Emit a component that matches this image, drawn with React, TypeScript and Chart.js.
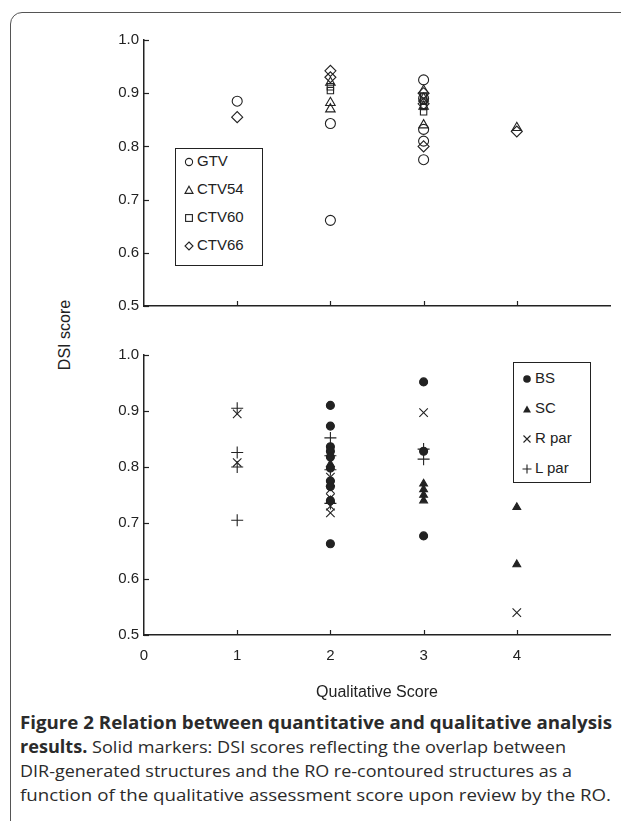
import React, { useEffect, useLayoutEffect, useRef } from "react";
import { Chart, registerables } from "chart.js";

Chart.register(...registerables);

type Pt = [number, number];

// ---------- data ----------
const xTickLabels = ["0", "1", "2", "3", "4"];
const xInnerTicks = [1, 2, 3, 4];
const yMin = 0.5;
const yMax = 1.0;
const xMin = 0;
const xMax = 5;

// top panel (target volumes)
const gtv: Pt[] = [[1, 0.885], [2, 0.843], [2, 0.661], [3, 0.925], [3, 0.89], [3, 0.832], [3, 0.81], [3, 0.775]];
const ctv54: Pt[] = [[2, 0.92], [2, 0.882], [2, 0.87], [3, 0.905], [3, 0.89], [3, 0.875], [3, 0.84], [4, 0.835]];
const ctv60: Pt[] = [[2, 0.912], [2, 0.905], [3, 0.895], [3, 0.885], [3, 0.875], [3, 0.865]];
const ctv66: Pt[] = [[1, 0.855], [2, 0.942], [2, 0.93], [3, 0.9], [3, 0.88], [3, 0.8], [4, 0.828]];

// bottom panel (organs at risk)
const bs: Pt[] = [[2, 0.91], [2, 0.873], [2, 0.836], [2, 0.828], [2, 0.818], [2, 0.798], [2, 0.775], [2, 0.765], [2, 0.74], [2, 0.663], [3, 0.952], [3, 0.828], [3, 0.677]];
const sc: Pt[] = [[2, 0.805], [2, 0.77], [2, 0.74], [3, 0.77], [3, 0.76], [3, 0.75], [3, 0.74], [4, 0.728], [4, 0.626]];
const rpar: Pt[] = [[1, 0.895], [1, 0.808], [2, 0.782], [2, 0.76], [2, 0.745], [2, 0.73], [2, 0.718], [3, 0.897], [4, 0.54]];
const lpar: Pt[] = [[1, 0.905], [1, 0.826], [1, 0.8], [1, 0.705], [2, 0.852], [2, 0.82], [2, 0.795], [2, 0.735], [3, 0.832], [3, 0.814]];

const topLegend = ["GTV", "CTV54", "CTV60", "CTV66"];
const bottomLegend = ["BS", "SC", "R par", "L par"];

const INK = "#222";
const FONT = "'Liberation Sans', Arial, sans-serif";

const pts = (a: Pt[]) => a.map(([x, y]) => ({ x, y }));

const innerTicks = {
  id: "innerTicks",
  afterDraw(chart: any) {
    const { ctx, chartArea, scales } = chart;
    ctx.save();
    ctx.strokeStyle = INK;
    ctx.lineWidth = 1.2;
    const ys = scales.y;
    ys.ticks.forEach((t: any) => {
      const py = Math.round(ys.getPixelForValue(t.value)) + 0.5;
      ctx.beginPath();
      ctx.moveTo(chartArea.left, py);
      ctx.lineTo(chartArea.left + 5, py);
      ctx.stroke();
    });
    const xs = scales.x;
    xInnerTicks.forEach((v) => {
      const px = Math.round(xs.getPixelForValue(v)) + 0.5;
      ctx.beginPath();
      ctx.moveTo(px, chartArea.bottom);
      ctx.lineTo(px, chartArea.bottom - 5);
      ctx.stroke();
    });
    ctx.restore();
  },
};

function ds(label: string, data: Pt[], style: string, filled: boolean, radius: number) {
  return {
    label,
    data: pts(data),
    pointStyle: style,
    pointRadius: radius,
    pointHoverRadius: radius,
    borderColor: INK,
    backgroundColor: filled ? INK : "rgba(0,0,0,0)",
    pointBorderWidth: 1.1,
    borderWidth: 1.1,
    showLine: false,
  };
}

function makeOptions(bottom: boolean) {
  return {
    animation: false,
    responsive: false,
    maintainAspectRatio: false,
    events: [],
    layout: { padding: { top: 15, right: 11, left: 0, bottom: 0 } },
    plugins: { legend: { display: false }, tooltip: { enabled: false } },
    scales: {
      x: {
        type: "linear",
        min: xMin,
        max: xMax,
        afterFit: (s: any) => {
          s.height = bottom ? 73 : 13;
        },
        afterBuildTicks: (s: any) => {
          s.ticks = xTickLabels.map((_, i) => ({ value: i }));
        },
        grid: { display: false, drawTicks: false },
        border: { display: true, color: INK, width: 1.5 },
        ticks: {
          display: bottom,
          padding: 12,
          color: INK,
          font: { family: FONT, size: 15 },
          callback: (v: number) => xTickLabels[v] ?? "",
        },
        title: {
          display: bottom,
          text: "Qualitative Score",
          color: INK,
          font: { family: FONT, size: 16 },
          padding: { top: 0, bottom: 6 },
        },
      },
      y: {
        type: "linear",
        min: yMin,
        max: yMax,
        afterFit: (s: any) => {
          s.width = 54;
        },
        grid: { display: false, drawTicks: false },
        border: { display: true, color: INK, width: 1.5 },
        ticks: {
          stepSize: 0.1,
          padding: 5,
          color: INK,
          font: { family: FONT, size: 15 },
          callback: (v: number) => v.toFixed(1),
        },
      },
    },
  };
}

function Panel({ datasets, bottom, left, top, width, height }: any) {
  const ref = useRef<HTMLCanvasElement>(null);
  useEffect(() => {
    const chart = new Chart(ref.current as HTMLCanvasElement, {
      type: "scatter",
      data: { datasets },
      options: makeOptions(bottom) as any,
      plugins: [innerTicks],
    });
    return () => chart.destroy();
  }, []);
  return (
    <canvas
      ref={ref}
      width={width}
      height={height}
      style={{ position: "absolute", left, top, width, height }}
    />
  );
}

function Marker({ kind }: { kind: string }) {
  const s = 10;
  const c = 5;
  let el: any = null;
  const st = { fill: "none", stroke: INK, strokeWidth: 1.1 };
  if (kind === "circle") el = <circle cx={c} cy={c} r={3.6} {...st} />;
  if (kind === "triangle") el = <polygon points="5,1.2 9,8.4 1,8.4" {...st} />;
  if (kind === "rect") el = <rect x={1.6} y={1.6} width={6.8} height={6.8} {...st} />;
  if (kind === "diamond") el = <polygon points="5,1 9,5 5,9 1,5" {...st} />;
  if (kind === "dot") el = <circle cx={c} cy={c} r={3.8} fill={INK} />;
  if (kind === "tri") el = <polygon points="5,1.5 9,8.5 1,8.5" fill={INK} />;
  if (kind === "x") el = <path d="M1.5,1.5 L8.5,8.5 M8.5,1.5 L1.5,8.5" stroke={INK} strokeWidth={1.1} />;
  if (kind === "plus") el = <path d="M5,0.5 L5,9.5 M0.5,5 L9.5,5" stroke={INK} strokeWidth={1.1} />;
  return (
    <svg width={s} height={s} style={{ display: "inline-block", verticalAlign: "middle", marginRight: 3 }}>
      {el}
    </svg>
  );
}

function Legend({ items, kinds, left, top, width, height, rowGap, padTop }: any) {
  return (
    <div
      style={{
        position: "absolute",
        left,
        top,
        width,
        height,
        border: `1.5px solid ${INK}`,
        boxSizing: "border-box",
        background: "white",
        fontFamily: FONT,
        fontSize: 15,
        color: INK,
      }}
    >
      {items.map((t: string, i: number) => (
        <div
          key={t}
          style={{ position: "absolute", left: 8, top: padTop + i * rowGap, lineHeight: "18px", whiteSpace: "nowrap" }}
        >
          <Marker kind={kinds[i]} />
          {t}
        </div>
      ))}
    </div>
  );
}

function FitLine({ children, width, top }: any) {
  const ref = useRef<HTMLSpanElement>(null);
  useLayoutEffect(() => {
    const el = ref.current;
    if (!el) return;
    el.style.transform = "none";
    const w = el.getBoundingClientRect().width;
    if (w > 0) el.style.transform = `scaleX(${width / w})`;
  }, []);
  return (
    <span
      ref={ref}
      style={{
        position: "absolute",
        left: 20,
        top,
        whiteSpace: "nowrap",
        transformOrigin: "0 0",
        fontFamily: "'Open Sans', 'Noto Sans', sans-serif",
        fontSize: 17,
        lineHeight: "22px",
        color: "#2b2b2b",
      }}
    >
      {children}
    </span>
  );
}

export default function App() {
  const topSets = [
    ds("GTV", gtv, "circle", false, 5),
    ds("CTV54", ctv54, "triangle", false, 5.5),
    ds("CTV60", ctv60, "rect", false, 4.5),
    ds("CTV66", ctv66, "rectRot", false, 5.5),
  ];
  const bottomSets = [
    ds("BS", bs, "circle", true, 4),
    ds("SC", sc, "triangle", true, 4.5),
    ds("R par", rpar, "crossRot", false, 6),
    ds("L par", lpar, "cross", false, 6),
  ];
  return (
    <div style={{ position: "absolute", left: 0, top: 0, width: 621, height: 821, overflow: "hidden", background: "white" }}>
      <div
        style={{
          position: "absolute",
          left: 10,
          top: 12,
          width: 640,
          height: 840,
          border: "1.5px solid #555",
          borderRadius: 12,
          boxSizing: "border-box",
        }}
      />
      <Panel datasets={topSets} bottom={false} left={90} top={25} width={531} height={295} />
      <Panel datasets={bottomSets} bottom={true} left={90} top={340} width={531} height={368} />
      <div
        style={{
          position: "absolute",
          left: 65,
          top: 335,
          transform: "translate(-50%, -50%) rotate(-90deg)",
          fontFamily: FONT,
          fontSize: 16,
          color: INK,
          whiteSpace: "nowrap",
        }}
      >
        DSI score
      </div>
      <Legend items={topLegend} kinds={["circle", "triangle", "rect", "diamond"]} left={175} top={148} width={88} height={118} rowGap={28} padTop={3} />
      <Legend items={bottomLegend} kinds={["dot", "tri", "x", "plus"]} left={513} top={362} width={78} height={121} rowGap={30} padTop={6} />
      <FitLine top={712} width={592}>
        <b>Figure 2 Relation between quantitative and qualitative analysis</b>
      </FitLine>
      <FitLine top={736} width={546}>
        <b>results.</b> Solid markers: DSI scores reflecting the overlap between
      </FitLine>
      <FitLine top={760} width={552}>
        DIR-generated structures and the RO re-contoured structures as a
      </FitLine>
      <FitLine top={784} width={591}>
        function of the qualitative assessment score upon review by the RO.
      </FitLine>
    </div>
  );
}
